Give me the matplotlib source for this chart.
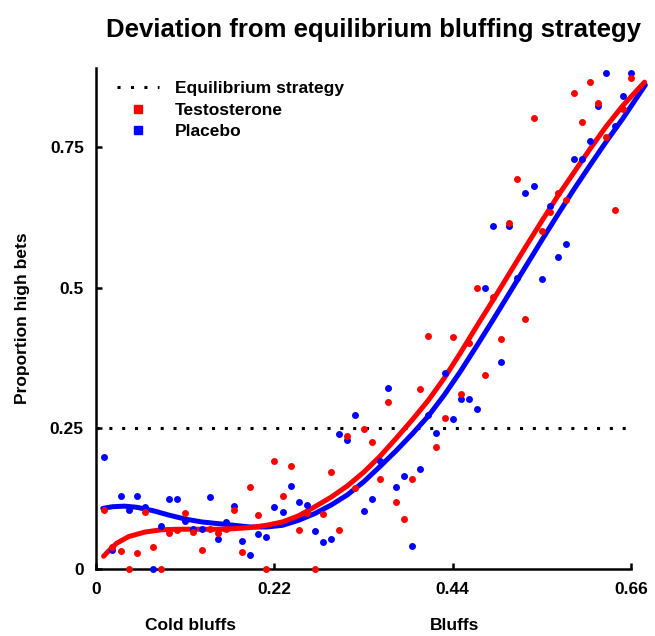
import numpy as np
import matplotlib
matplotlib.use("Agg")
import matplotlib.pyplot as plt
from matplotlib.lines import Line2D

plt.rcParams["font.family"] = ["Liberation Sans", "DejaVu Sans"]
plt.rcParams["font.weight"] = "bold"

# proportion of bluffs (x) and proportion of high bets (y)
bluff_x = [round(0.01 * k, 2) for k in range(1, 67)]

testosterone = [
    0.105, 0.040, 0.032, 0.000, 0.028, 0.102, 0.040, 0.000, 0.064, 0.070,
    0.099, 0.066, 0.034, 0.072, 0.065, 0.072, 0.106, 0.030, 0.146, 0.096,
    0.000, 0.193, 0.130, 0.184, 0.070, 0.100, 0.000, 0.098, 0.173, 0.070,
    0.237, 0.144, 0.249, 0.226, 0.160, 0.297, 0.119, 0.090, 0.160, 0.320,
    0.414, 0.217, 0.269, 0.412, 0.312, 0.401, 0.500, 0.345, 0.484, 0.408,
    0.614, 0.693, 0.445, 0.801, 0.600, 0.634, 0.668, 0.655, 0.846, 0.795,
    0.865, 0.828, 0.767, 0.638, 0.818, 0.873,
]
placebo = [
    0.199, 0.035, 0.130, 0.105, 0.130, 0.110, 0.000, 0.077, 0.124, 0.124,
    0.086, 0.072, 0.072, 0.128, 0.053, 0.083, 0.113, 0.050, 0.026, 0.062,
    0.058, 0.110, 0.102, 0.147, 0.120, 0.114, 0.068, 0.049, 0.053, 0.241,
    0.230, 0.273, 0.104, 0.124, 0.193, 0.321, 0.146, 0.166, 0.042, 0.178,
    0.274, 0.242, 0.349, 0.266, 0.302, 0.302, 0.285, 0.500, 0.610, 0.368,
    0.610, 0.518, 0.668, 0.680, 0.515, 0.645, 0.554, 0.577, 0.729, 0.729,
    0.761, 0.822, 0.882, 0.787, 0.841, 0.881,
]

# fitted curves
fit_t_x = [0.009, 0.015, 0.025, 0.04, 0.06, 0.08, 0.10, 0.13, 0.16, 0.19,
           0.21, 0.23, 0.25, 0.27, 0.29, 0.31, 0.33, 0.35, 0.37, 0.39,
           0.41, 0.43, 0.45, 0.47, 0.49, 0.51, 0.53, 0.55, 0.57, 0.59,
           0.61, 0.63, 0.65, 0.677]
fit_t_y = [0.023, 0.032, 0.046, 0.058, 0.066, 0.070, 0.071, 0.071, 0.071, 0.074,
           0.078, 0.084, 0.095, 0.111, 0.128, 0.148, 0.172, 0.200, 0.232, 0.265,
           0.300, 0.340, 0.385, 0.432, 0.478, 0.525, 0.572, 0.618, 0.663, 0.705,
           0.747, 0.787, 0.823, 0.865]
fit_p_x = [0.008, 0.02, 0.035, 0.05, 0.07, 0.09, 0.11, 0.13, 0.15, 0.17,
           0.19, 0.21, 0.23, 0.25, 0.27, 0.29, 0.31, 0.33, 0.35, 0.37,
           0.39, 0.41, 0.43, 0.45, 0.47, 0.49, 0.51, 0.53, 0.55, 0.57,
           0.59, 0.61, 0.63, 0.65, 0.678]
fit_p_y = [0.108, 0.111, 0.112, 0.110, 0.104, 0.096, 0.089, 0.084, 0.081, 0.078,
           0.075, 0.075, 0.078, 0.087, 0.099, 0.114, 0.132, 0.155, 0.182, 0.210,
           0.240, 0.272, 0.310, 0.352, 0.397, 0.443, 0.490, 0.537, 0.584, 0.630,
           0.675, 0.718, 0.760, 0.800, 0.860]

equilibrium = 0.25
x_ticks = [0, 0.22, 0.44, 0.66]
x_tick_labels = ["0", "0.22", "0.44", "0.66"]
y_ticks = [0, 0.25, 0.5, 0.75]
y_tick_labels = ["0", "0.25", "0.5", "0.75"]

fig = plt.figure(figsize=(6.55, 6.36), dpi=100)
ax = fig.add_axes([0.147, 0.105, 0.816, 0.788])

ax.axhline(equilibrium, color="black", lw=2.2, linestyle=(0, (1, 3.2)), zorder=2)

ax.plot(fit_p_x, fit_p_y, color="#0000ff", lw=3.6, clip_on=False, zorder=3,
        solid_capstyle="round", solid_joinstyle="round")
ax.plot(fit_t_x, fit_t_y, color="#ff0000", lw=3.6, clip_on=False, zorder=3,
        solid_capstyle="round", solid_joinstyle="round")

ax.plot(bluff_x, placebo, "o", color="#0000ff", ms=5, mew=0, clip_on=False, zorder=4)
ax.plot(bluff_x, testosterone, "o", color="#ff0000", ms=5, mew=0, clip_on=False, zorder=4)

ax.set_xlim(0, 0.66)
ax.set_ylim(0, 0.89)
ax.set_xticks(x_ticks)
ax.set_xticklabels(x_tick_labels, fontsize=12.5, fontweight="bold")
ax.set_yticks(y_ticks)
ax.set_yticklabels(y_tick_labels, fontsize=12.5, fontweight="bold")
ax.tick_params(direction="in", length=4, width=1.8, pad=9)

for side in ["top", "right"]:
    ax.spines[side].set_visible(False)
for side in ["left", "bottom"]:
    ax.spines[side].set_linewidth(1.8)

ax.set_ylabel("Proportion high bets", fontsize=12.5, fontweight="bold", labelpad=14)
ax.text(0.116, -0.113, "Cold bluffs", transform=ax.get_xaxis_transform(),
        ha="center", va="center", fontsize=12.5, fontweight="bold")
ax.text(0.443, -0.113, "Bluffs", transform=ax.get_xaxis_transform(),
        ha="center", va="center", fontsize=12.5, fontweight="bold")

fig.suptitle("Deviation from equilibrium bluffing strategy", x=0.57, y=0.972,
             fontsize=18.5, fontweight="bold")

handles = [
    Line2D([], [], color="black", lw=2.2, linestyle=(0, (1, 3.4))),
    Line2D([], [], marker="s", color="#ff0000", lw=0, ms=6),
    Line2D([], [], marker="s", color="#0000ff", lw=0, ms=6),
]
ax.legend(handles, ["Equilibrium strategy", "Testosterone", "Placebo"],
          loc="upper left", bbox_to_anchor=(0.01, 1.005), frameon=False,
          prop={"size": 12.5, "weight": "bold"}, handlelength=2.4,
          handletextpad=0.9, labelspacing=0.36)

fig.savefig("out.png", dpi=100)
